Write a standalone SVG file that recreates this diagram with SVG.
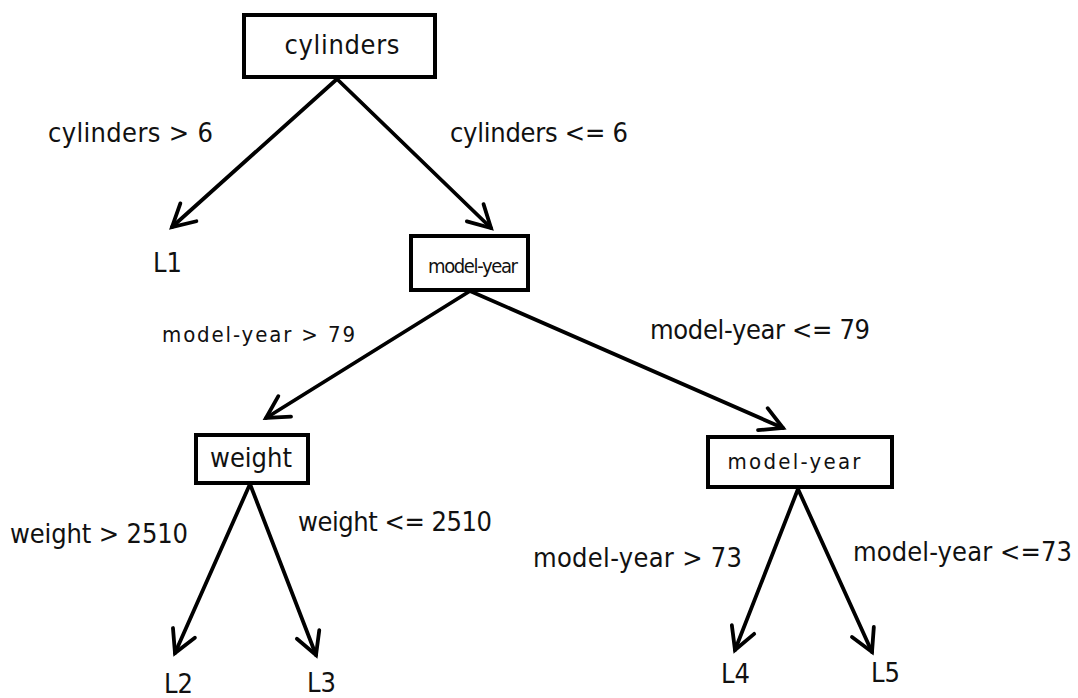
<svg xmlns="http://www.w3.org/2000/svg" width="1078" height="698" viewBox="0 0 1078 698">
  <style>
    .box { fill: #ffffff; stroke: #000000; stroke-width: 4; }
    .edge { fill: none; stroke: #000000; stroke-width: 3.8; stroke-linecap: round; }
    .head { fill: none; stroke: #000000; stroke-width: 3.8; stroke-linecap: round; stroke-linejoin: miter; }
    text { font-family: "DejaVu Sans Condensed", "DejaVu Sans", sans-serif; fill: #111111; }
    .lg { font-size: 27px; }
    .sm { font-size: 22px; }
    .node { font-size: 27px; text-anchor: middle; }
    .nodesm { font-size: 20px; text-anchor: middle; }
    .nodemd { font-size: 22px; text-anchor: middle; }
  </style>
  <defs>
    <marker id="open" markerUnits="userSpaceOnUse" viewBox="-26 -16 30 32" refX="0" refY="0" markerWidth="30" markerHeight="32" orient="auto" overflow="visible">
      <path class="head" d="M-22,-12 L0,0 L-22,12"/>
    </marker>
  </defs>
  <rect width="1078" height="698" fill="#ffffff"/>

  <g id="connectors">
    <line class="edge" x1="337" y1="79" x2="172" y2="227" marker-end="url(#open)"/>
    <line class="edge" x1="337" y1="79" x2="491" y2="228" marker-end="url(#open)"/>
    <line class="edge" x1="470" y1="291" x2="266" y2="418" marker-end="url(#open)"/>
    <line class="edge" x1="470" y1="291" x2="783" y2="428" marker-end="url(#open)"/>
    <line class="edge" x1="250" y1="484" x2="175" y2="653" marker-end="url(#open)"/>
    <line class="edge" x1="250" y1="484" x2="316" y2="655" marker-end="url(#open)"/>
    <line class="edge" x1="798" y1="489" x2="735" y2="650" marker-end="url(#open)"/>
    <line class="edge" x1="798" y1="489" x2="872" y2="652" marker-end="url(#open)"/>
  </g>

  <g id="edge-labels">
    <text class="lg" x="48" y="142" textLength="165">cylinders &gt; 6</text>
    <text class="lg" x="450" y="142" textLength="178">cylinders &lt;= 6</text>
    <text class="sm" x="162" y="342" textLength="193">model-year &gt; 79</text>
    <text class="lg" x="650" y="339" textLength="220">model-year &lt;= 79</text>
    <text class="lg" x="10" y="543" textLength="178">weight &gt; 2510</text>
    <text class="lg" x="298" y="531" textLength="194">weight &lt;= 2510</text>
    <text class="lg" x="533" y="567" textLength="209">model-year &gt; 73</text>
    <text class="lg" x="853" y="561" textLength="219">model-year &lt;=73</text>
  </g>

  <g id="n-cylinders">
    <rect class="box" x="244" y="15" width="191" height="62"/>
    <text class="node" x="342" y="54" textLength="115">cylinders</text>
  </g>
  <g id="n-L1">
    <text class="lg" x="153" y="272">L1</text>
  </g>
  <g id="n-model-year-1">
    <rect class="box" x="411" y="236" width="117" height="54"/>
    <text class="nodesm" x="473" y="273" textLength="90">model-year</text>
  </g>
  <g id="n-weight">
    <rect class="box" x="196" y="435" width="112" height="48"/>
    <text class="node" x="251" y="467" textLength="82">weight</text>
  </g>
  <g id="n-model-year-2">
    <rect class="box" x="708" y="437" width="184" height="50"/>
    <text class="nodemd" x="794" y="469" textLength="133">model-year</text>
  </g>
  <g id="n-L2">
    <text class="lg" x="164" y="693">L2</text>
  </g>
  <g id="n-L3">
    <text class="lg" x="307" y="692">L3</text>
  </g>
  <g id="n-L4">
    <text class="lg" x="721" y="683">L4</text>
  </g>
  <g id="n-L5">
    <text class="lg" x="871" y="682">L5</text>
  </g>
</svg>
